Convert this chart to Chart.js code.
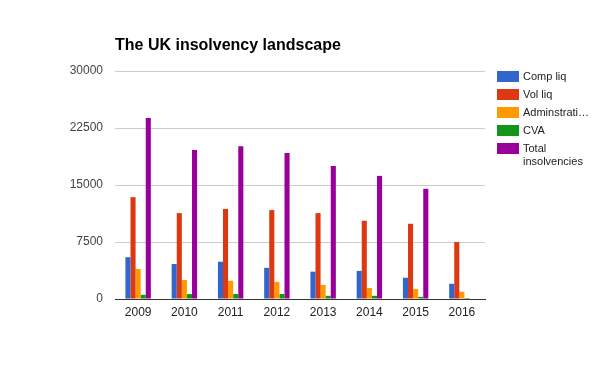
<!DOCTYPE html>
<html>
<head>
<meta charset="utf-8">
<script src="https://cdn.jsdelivr.net/npm/chart.js@4.4.1/dist/chart.umd.min.js"></script>
<style>
    html, body { margin: 0; padding: 0; background: #fff; }
    #wrap { position: relative; width: 600px; height: 371px; font-family: Arial, "Liberation Sans", sans-serif; }
    #titulo { position: absolute; left: 115px; top: 36px; font-size: 16px; font-weight: bold; color: #000; white-space: nowrap; }
    #leyenda { position: absolute; left: 497px; top: 70px; font-size: 11px; color: #222; }
    .item { position: relative; padding-left: 26px; margin-bottom: 5px; line-height: 13px; width: 80px; }
    .caja { position: absolute; left: 0; top: 1px; width: 22px; height: 11px; }
</style>
</head>
<body>
<div id="wrap">
    <canvas id="grafico" width="600" height="371"></canvas>
    <div id="titulo">The UK insolvency landscape</div>
    <div id="leyenda"></div>
</div>
<script>
// datos
const anios = ["2009", "2010", "2011", "2012", "2013", "2014", "2015", "2016"];
const compLiq = [5500, 4600, 4900, 4100, 3600, 3700, 2800, 2000];
const volLiq = [13400, 11300, 11850, 11700, 11300, 10300, 9900, 7500];
const administracion = [3950, 2500, 2400, 2250, 1850, 1450, 1300, 950];
const cva = [550, 650, 650, 650, 420, 420, 280, 130];
const totalInsolvencias = [23800, 19600, 20100, 19200, 17500, 16200, 14500, null];
const ticksY = [0, 7500, 15000, 22500, 30000];

const series = [
    { label: "Comp liq", data: compLiq, color: "#3366cc" },
    { label: "Vol liq", data: volLiq, color: "#dc3912" },
    { label: "Adminstrati\u2026", data: administracion, color: "#ff9900" },
    { label: "CVA", data: cva, color: "#109618" },
    { label: "Total insolvencies", data: totalInsolvencias, color: "#990099" },
];

const datasets = series.map((s) => {
    return {
        label: s.label,
        data: s.data,
        backgroundColor: s.color,
        borderWidth: 0,
        categoryPercentage: 0.55,
        barPercentage: 1,
    };
});

const ctx = document.getElementById('grafico').getContext("2d");
const chart = new Chart(ctx, {
    type: "bar",
    data: {
        labels: anios,
        datasets: datasets,
    },
    options: {
        responsive: false,
        animation: false,
        layout: {
            padding: { top: 71, right: 115, bottom: 0, left: 0 },
        },
        plugins: {
            legend: { display: false },
            tooltip: { enabled: false },
        },
        scales: {
            x: {
                grid: { display: false, drawTicks: false },
                border: { display: true, color: "#333", width: 1 },
                ticks: {
                    color: "#222",
                    padding: 6,
                    font: { family: "Arial, 'Liberation Sans'", size: 12 },
                },
                afterFit: (scale) => { scale.height = 72; },
            },
            y: {
                min: 0,
                max: 30000,
                afterBuildTicks: (scale) => {
                    scale.ticks = ticksY.map((v) => ({ value: v }));
                },
                grid: {
                    drawTicks: false,
                    color: (c) => c.tick && c.tick.value === 0 ? "#333" : "#ccc",
                },
                border: { display: false },
                ticks: {
                    color: "#444",
                    padding: 12,
                    font: { family: "Arial, 'Liberation Sans'", size: 12 },
                    callback: (v) => String(v),
                },
                afterFit: (scale) => { scale.width = 115; },
            },
        },
    },
});

// leyenda a la derecha
const leyenda = document.getElementById('leyenda');
chart.data.datasets.forEach((d) => {
    const item = document.createElement('div');
    item.className = 'item';
    const caja = document.createElement('span');
    caja.className = 'caja';
    caja.style.background = d.backgroundColor;
    item.appendChild(caja);
    item.appendChild(document.createTextNode(d.label));
    leyenda.appendChild(item);
});
</script>
</body>
</html>
